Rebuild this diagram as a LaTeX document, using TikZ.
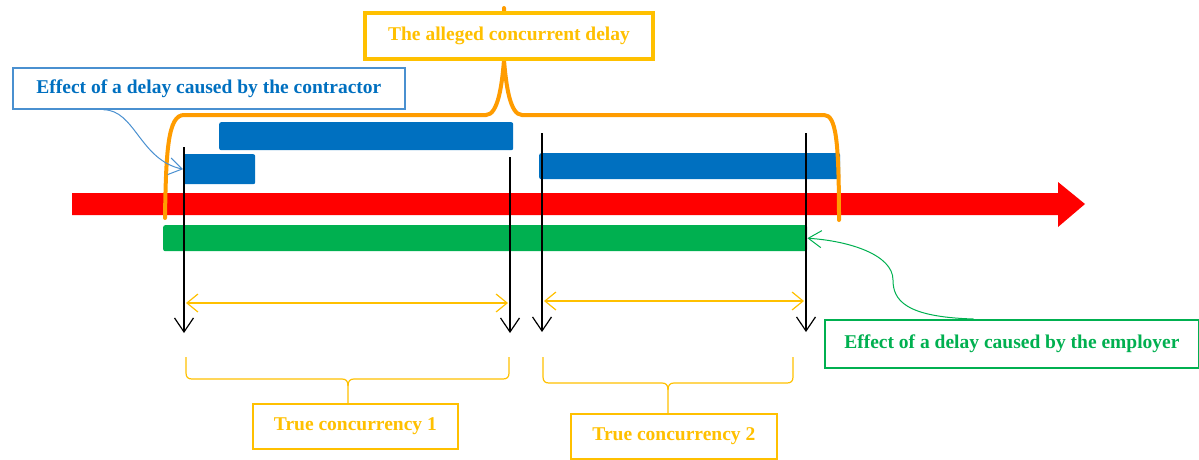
\documentclass[tikz,border=0pt]{standalone}
\usepackage{fontspec}
\setmainfont{Liberation Serif}
\usetikzlibrary{arrows.meta,calc}
\definecolor{barblue}{HTML}{0070C0}
\definecolor{lineblue}{HTML}{4A90D0}
\definecolor{timered}{HTML}{FF0000}
\definecolor{bargreen}{HTML}{00B050}
\definecolor{gold}{HTML}{FFC000}
\definecolor{braceorange}{HTML}{FF9C00}

\begin{document}
\begin{tikzpicture}[x=1pt,y=-1pt,
  lbl/.style={font=\bfseries\fontsize{19.5}{22}\selectfont, inner sep=0pt,
    fill=white, anchor=north west},
  bar/.style={inner sep=0pt, anchor=north west, rounded corners=2pt},
  vline/.style={black, line width=1.2pt, -{Straight Barb[length=14pt,width=19pt]}},
  span/.style={gold, line width=1.2pt,
    {Straight Barb[length=11pt,width=18pt]}-{Straight Barb[length=11pt,width=18pt]}},
  smallbrace/.style={gold, line width=1.2pt},
  bigbrace/.style={braceorange, line width=4pt, line cap=round},
  callout/.style={line width=1pt, -{Straight Barb[length=13pt,width=17pt]}}
]
\useasboundingbox (0,0) rectangle (1199,459);

% time line
\fill[timered] (72,193) -- (1058,193) -- (1058,182) -- (1085,204)
  -- (1058,227) -- (1058,215) -- (72,215) -- cycle;

% delay bars
\node[bar, fill=barblue, minimum width=294pt, minimum height=28pt] (b1) at (219,122) {};
\node[bar, fill=barblue, minimum width=72pt, minimum height=30pt] (b2) at (183,154) {};
\node[bar, fill=barblue, minimum width=301pt, minimum height=26pt] (b3) at (539,153) {};
\node[bar, fill=bargreen, minimum width=644pt, minimum height=26pt] (g) at (163,225) {};

% brace over the alleged concurrent delay
\draw[bigbrace] (165,218) .. controls (166,150) and (168,115) .. (184,115)
  -- (486,115) .. controls (498,115) and (502,85) .. (504,60) -- (504,8);
\draw[bigbrace] (504,60) .. controls (506,85) and (510,115) .. (522,115)
  -- (824,115) .. controls (836,115) and (839,140) .. (839,220);

% labels
\node[lbl, draw=gold, line width=4pt, text=gold,
  minimum width=288pt, minimum height=46pt] (alleged) at (363,11)
  {The alleged concurrent delay};
\node[lbl, draw=lineblue, line width=1.8pt, text=barblue,
  minimum width=392pt, minimum height=41pt] (ctr) at (12,67)
  {Effect of a delay caused by the contractor};
\node[lbl, draw=bargreen, line width=1.8pt, text=bargreen,
  minimum width=374pt, minimum height=48pt] (emp) at (824,319)
  {Effect of a delay caused by the employer};
\node[lbl, draw=gold, line width=1.8pt, text=gold,
  minimum width=205pt, minimum height=45pt] (tc1) at (252,403)
  {True concurrency 1};
\node[lbl, draw=gold, line width=1.8pt, text=gold,
  minimum width=206pt, minimum height=45pt] (tc2) at (570,413)
  {True concurrency 2};

% pointers from the labels to the bars
\draw[callout, lineblue] ($(ctr.south west)!0.233!(ctr.south east)$)
  .. controls (135,110) and (140,160) .. (b2.west);
\draw[callout, bargreen] ($(emp.north west)!0.398!(emp.north east)$)
  .. controls (905,317) and (893,300) .. (893,280)
  .. controls (893,255) and (850,241) .. (g.east);

% period markers
\coordinate (a1t) at (184,147); \coordinate (a1b) at (184,333);
\coordinate (a2t) at (510,157); \coordinate (a2b) at (510,333);
\coordinate (a3t) at (542,133); \coordinate (a3b) at (542,332);
\coordinate (a4t) at (806,133); \coordinate (a4b) at (806,332);
\draw[vline] (a1t) -- (a1b);
\draw[vline] (a2t) -- (a2b);
\draw[vline] (a3t) -- (a3b);
\draw[vline] (a4t) -- (a4b);

% spans of true concurrency
\coordinate (s1l) at (186,303); \coordinate (s1r) at (508,303);
\coordinate (s2l) at (544,301); \coordinate (s2r) at (804,301);
\draw[span] (s1l) -- (s1r);
\draw[span] (s2l) -- (s2r);

% braces over the true concurrency labels
\draw[smallbrace] (186,357) -- (186,373) .. controls (186,377) and (188,379) .. (192,379)
  -- (342,379) .. controls (346,379) and (348,381) .. (348,386) -- (tc1.north -| 348,0);
\draw[smallbrace] (348,386) .. controls (348,381) and (350,379) .. (354,379)
  -- (503,379) .. controls (507,379) and (509,377) .. (509,373) -- (509,357);
\draw[smallbrace] (543,357) -- (543,377) .. controls (543,381) and (545,383) .. (549,383)
  -- (662,383) .. controls (666,383) and (668,385) .. (668,390) -- (tc2.north -| 668,0);
\draw[smallbrace] (668,390) .. controls (668,385) and (670,383) .. (674,383)
  -- (787,383) .. controls (791,383) and (793,381) .. (793,377) -- (793,357);
\end{tikzpicture}
\end{document}
